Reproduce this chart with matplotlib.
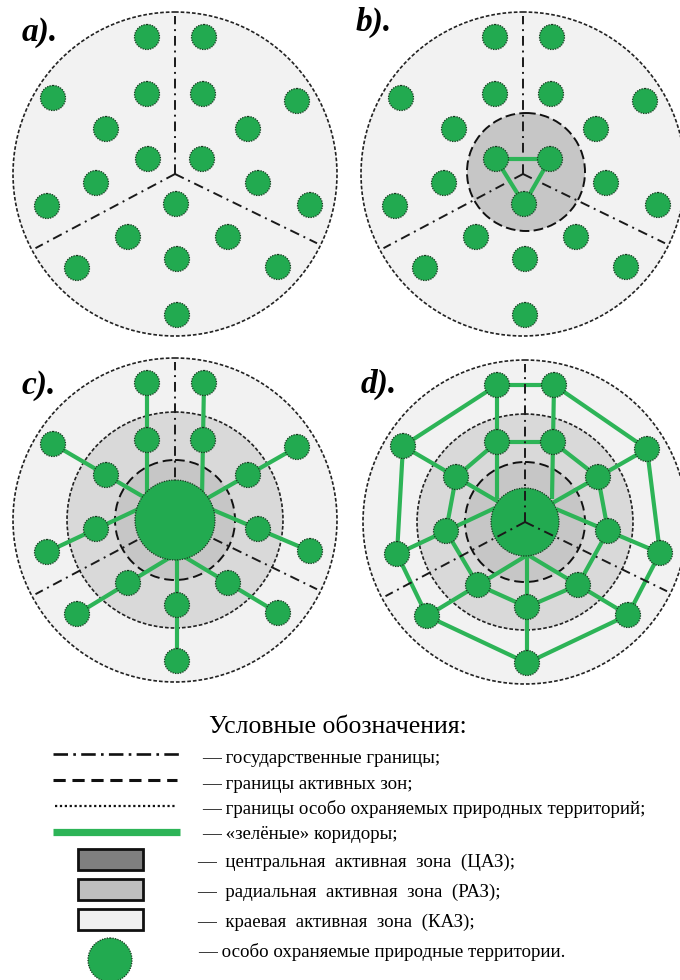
import matplotlib
matplotlib.use("Agg")
import matplotlib.pyplot as plt
from matplotlib.patches import Circle, Rectangle
import numpy as np

# ---------------- data ----------------
panel_labels = ["a).", "b).", "c).", "d)."]
panel_cx = [175, 523, 175, 525]
panel_cy = [174, 174, 520, 522]

# protected areas: offsets from panel centre (px, x right, y down)
pa_dx = [-28, 29, -122, -28, 28, 122, -69, 73, -27, 27, -79, 83, -128, 1, 135, -47, 53, -98, 2, 103, 2]
pa_dy = [-137, -137, -76, -80, -80, -73, -45, -45, -15, -15, 9, 9, 32, 30, 31, 63, 63, 94, 85, 93, 141]
inner_pa = [8, 9, 13]

triangle_links = [(8, 9), (9, 13), (13, 8)]
spokes = [(0, 3), (1, 4), (2, 6), (5, 7), (12, 10), (14, 11), (17, 15), (19, 16), (20, 18)]
outer_ring = [(0, 1), (1, 5), (5, 14), (14, 19), (19, 20), (20, 17), (17, 12), (12, 2), (2, 0)]
inner_ring = [(3, 4), (4, 7), (7, 11), (11, 16), (16, 18), (18, 15), (15, 10), (10, 6), (6, 3)]

border_angles = [90, 208, 334]

legend_title = "Условные обозначения:"
legend_texts = [
    "— государственные границы;",
    "— границы активных зон;",
    "— границы особо охраняемых природных территорий;",
    "— «зелёные» коридоры;",
    "—  центральная  активная  зона  (ЦАЗ);",
    "—  радиальная  активная  зона  (РАЗ);",
    "—  краевая  активная  зона  (КАЗ);",
    "— особо охраняемые природные территории.",
]
zone_colors = ["#7f7f7f", "#bfbfbf", "#f0f0f0"]

# ---------------- style ----------------
GREEN_NODE = "#22aa50"
GREEN_LINE = "#2db457"
KAZ = "#f2f2f2"
RAZ = "#d9d9d9"
CAZ = "#c6c6c6"
R_OUT = 162
R_PA = 12.5
BORDER_LEN = 158

fig = plt.figure(figsize=(6.8, 9.8), dpi=100)
ax = fig.add_axes([0, 0, 1, 1])
ax.set_xlim(0, 680)
ax.set_ylim(980, 0)
ax.set_aspect("equal")
ax.axis("off")

serif = ["Liberation Serif", "DejaVu Serif"]


def pa_xy(p, i):
    return panel_cx[p] + pa_dx[i], panel_cy[p] + pa_dy[i]


def draw_node(x, y, r, z=6):
    ax.add_patch(Circle((x, y), r, facecolor=GREEN_NODE, edgecolor="none", zorder=z))
    ax.add_patch(Circle((x, y), r, fill=False, edgecolor="#17371f", lw=0.9,
                        linestyle=(0, (1, 1)), zorder=z + 0.1))


def link(p, i, j):
    x1, y1 = pa_xy(p, i)
    x2, y2 = pa_xy(p, j)
    ax.plot([x1, x2], [y1, y2], color=GREEN_LINE, lw=3.0, solid_capstyle="butt", zorder=3)


def spoke(p, o, i):
    xo, yo = pa_xy(p, o)
    xi, yi = pa_xy(p, i)
    xe, ye = xi + (xi - xo), yi + (yi - yo)
    ax.plot([xo, xi, xe], [yo, yi, ye], color=GREEN_LINE, lw=3.0,
            solid_capstyle="butt", zorder=3)


for p in range(4):
    cx, cy = panel_cx[p], panel_cy[p]
    # edge zone
    ax.add_patch(Circle((cx, cy), R_OUT, facecolor=KAZ, edgecolor="none", zorder=0))
    ax.add_patch(Circle((cx, cy), R_OUT, fill=False, edgecolor="#222222", lw=1.2,
                        linestyle=(0, (2.2, 1.2)), zorder=1.5))
    if p == 1:
        ax.add_patch(Circle((cx + 3, cy - 2), 59, facecolor=CAZ, edgecolor="none", zorder=0.5))
        ax.add_patch(Circle((cx + 3, cy - 2), 59, fill=False, edgecolor="#111111", lw=1.4,
                            linestyle=(0, (5, 2.2)), zorder=1.5))
    if p >= 2:
        ax.add_patch(Circle((cx, cy), 108, facecolor=RAZ, edgecolor="none", zorder=0.5))
        ax.add_patch(Circle((cx, cy), 108, fill=False, edgecolor="#222222", lw=1.2,
                            linestyle=(0, (2.2, 1.2)), zorder=1.5))
        ax.add_patch(Circle((cx, cy), 60, facecolor=CAZ, edgecolor="none", zorder=0.7))
        ax.add_patch(Circle((cx, cy), 60, fill=False, edgecolor="#111111", lw=1.4,
                            linestyle=(0, (5, 2.5)), zorder=1.5))
    # state borders
    bz = 5.5 if p == 3 else 2
    for a in border_angles:
        t = np.deg2rad(a)
        ax.plot([cx, cx + BORDER_LEN * np.cos(t)], [cy, cy - BORDER_LEN * np.sin(t)],
                color="#1a1a1a", lw=1.4, linestyle=(0, (5, 2.5, 1, 2.5)), zorder=bz)
    # corridors
    if p == 1:
        for i, j in triangle_links:
            link(p, i, j)
    if p >= 2:
        for o, i in spokes:
            spoke(p, o, i)
    if p == 3:
        for i, j in outer_ring + inner_ring:
            link(p, i, j)
    # nodes
    for i in range(len(pa_dx)):
        if p >= 2 and i in inner_pa:
            continue
        draw_node(*pa_xy(p, i), R_PA)
    if p >= 2:
        draw_node(cx, cy, 40 if p == 2 else 34, z=4)

# panel labels
lab_x = [22, 356, 22, 361]
lab_y = [33, 22, 385, 384]
for p in range(4):
    ax.text(lab_x[p], lab_y[p], panel_labels[p], fontsize=24, fontweight="bold",
            fontstyle="italic", family=serif, ha="left", va="center", zorder=10)

# ---------------- legend ----------------
ax.text(338, 733, legend_title, fontsize=18.5, family=serif, ha="center", va="baseline")

ax.plot([53, 180], [754, 754], color="#111111", lw=1.9, linestyle=(0, (5.5, 2, 1, 2)))
ax.plot([53, 177], [780, 780], color="#111111", lw=2.2, linestyle=(0, (4, 2.2)))
ax.plot([55, 177], [806, 806], color="#111111", lw=1.6, linestyle=(0, (1, 1.2)))
ax.plot([53, 180], [832, 832], color=GREEN_LINE, lw=5.2, solid_capstyle="butt")

box_y = [849, 879, 909]
for k in range(3):
    ax.add_patch(Rectangle((78, box_y[k]), 65, 21, facecolor=zone_colors[k],
                           edgecolor="#111111", lw=2.0))
draw_node(110, 960, 22)

txt_x = [202, 202, 202, 202, 197, 197, 197, 198]
txt_base = [763, 789, 814, 839, 867, 897, 927, 957]
for k, t in enumerate(legend_texts):
    ax.text(txt_x[k], txt_base[k], t, fontsize=13.6, family=serif, ha="left", va="baseline")

fig.savefig("out.png", dpi=100, facecolor="white")
